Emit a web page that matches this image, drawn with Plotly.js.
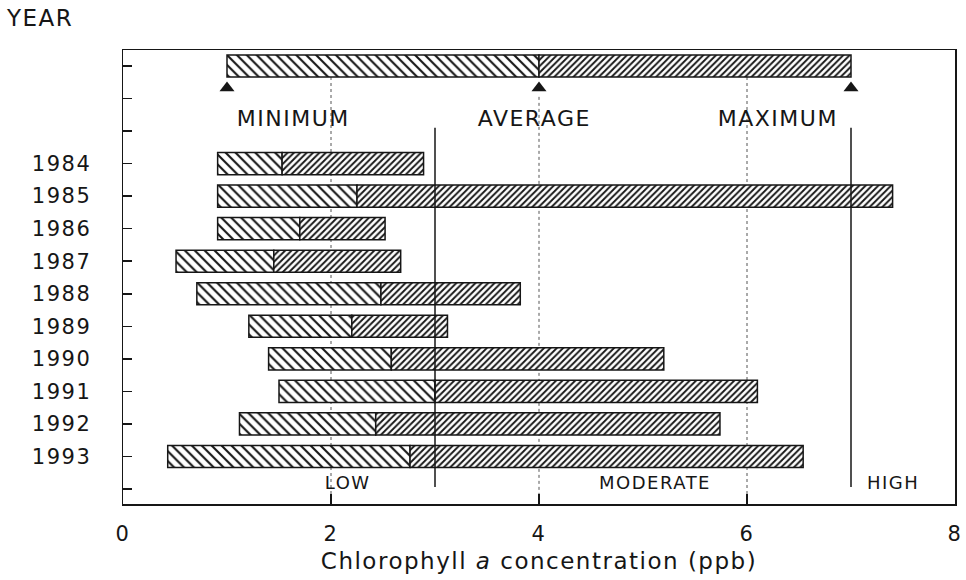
<!DOCTYPE html>
<html>
<head>
<meta charset="utf-8">
<script src="https://cdn.plot.ly/plotly-3.0.1.min.js"></script>
<style>
  html, body { margin: 0; padding: 0; background: #fff; }
  #chart { width: 966px; height: 580px; }
  #chart text { letter-spacing: 1.5px; }
</style>
</head>
<body>
<div id="chart"></div>
<script>
// ---- data ----
const years = ['1984', '1985', '1986', '1987', '1988', '1989', '1990', '1991', '1992', '1993'];
const minVals = [0.91, 0.91, 0.91, 0.51, 0.71, 1.21, 1.40, 1.50, 1.12, 0.43];
const avgVals = [1.53, 2.25, 1.70, 1.45, 2.48, 2.20, 2.58, 3.00, 2.43, 2.76];
const maxVals = [2.89, 7.40, 2.52, 2.67, 3.82, 3.12, 5.20, 6.10, 5.74, 6.54];
// key (explanation) bar
const keyMin = 1;
const keyAvg = 4;
const keyMax = 7;
const keyLabels = ['MINIMUM', 'AVERAGE', 'MAXIMUM'];
// concentration classes and their boundaries
const classLabels = ['LOW', 'MODERATE', 'HIGH'];
const classBounds = [3, 7];
const xTicks = [0, 2, 4, 6, 8];

// ---- layout helpers (row positions) ----
const keyRow = 0;
const firstYearRow = 3;
const yearRows = years.map((_, i) => firstYearRow + i);
const lastRow = firstYearRow + years.length; // empty row below 1993
const tickRows = [];
const tickText = [];
for (let r = 0; r <= lastRow; r++) {
  tickRows.push(r);
  const yi = r - firstYearRow;
  tickText.push(yi >= 0 && yi < years.length ? years[yi] : '');
}

const ink = '#161616';
const font = 'DejaVu Sans, Liberation Sans, Arial, sans-serif';

const lowSeg = {
  type: 'bar', orientation: 'h',
  y: [keyRow, ...yearRows],
  base: [keyMin, ...minVals],
  x: [keyAvg - keyMin, ...avgVals.map((a, i) => a - minVals[i])],
  width: 0.68,
  marker: {
    color: 'white',
    line: { color: ink, width: 1.5 },
    pattern: { shape: '\\', size: 7, solidity: 0.3, fgcolor: ink, bgcolor: 'white', fillmode: 'replace' }
  },
  hoverinfo: 'skip', showlegend: false
};
const highSeg = {
  type: 'bar', orientation: 'h',
  y: [keyRow, ...yearRows],
  base: [keyAvg, ...avgVals],
  x: [keyMax - keyAvg, ...maxVals.map((m, i) => m - avgVals[i])],
  width: 0.68,
  marker: {
    color: 'white',
    line: { color: ink, width: 1.5 },
    pattern: { shape: '/', size: 4.5, solidity: 0.42, fgcolor: ink, bgcolor: 'white', fillmode: 'replace' }
  },
  hoverinfo: 'skip', showlegend: false
};
const arrows = {
  type: 'scatter', mode: 'markers',
  x: [keyMin, keyAvg, keyMax],
  y: [0.68, 0.68, 0.68],
  marker: { symbol: 'triangle-up', size: 13, color: ink },
  hoverinfo: 'skip', showlegend: false, cliponaxis: false
};

const yBottom = lastRow + 0.46;
const yTop = -0.49;

const shapes = [];
// dotted grid lines at 2, 4, 6
[[2, 0.34], [4, 0.95], [6, 0.34]].forEach(([gx, y0]) => {
  shapes.push({ type: 'line', xref: 'x', yref: 'y', x0: gx, x1: gx, y0: y0, y1: yBottom,
    line: { color: '#555', width: 1, dash: 'dot' }, layer: 'below' });
});
// solid class boundaries
classBounds.forEach(bx => {
  shapes.push({ type: 'line', xref: 'x', yref: 'y', x0: bx, x1: bx, y0: 1.9, y1: 12.94,
    line: { color: ink, width: 1.5 }, layer: 'above' });
});

const annotations = [];
const keyLabelX = [1.63, 3.96, 6.30];
keyLabels.forEach((t, i) => annotations.push({
  x: keyLabelX[i], y: 1.6, xref: 'x', yref: 'y', text: t, showarrow: false,
  font: { family: font, size: 22, color: ink }
}));
const classLabelX = [2.16, 5.12, 7.40];
classLabels.forEach((t, i) => annotations.push({
  x: classLabelX[i], y: 12.81, xref: 'x', yref: 'y', text: t, showarrow: false,
  font: { family: font, size: 18, color: ink }
}));
annotations.push({
  x: -0.139, y: 1.07, xref: 'paper', yref: 'paper', xanchor: 'left', yanchor: 'middle',
  text: 'YEAR', showarrow: false, font: { family: font, size: 23, color: ink }
});

const layout = {
  width: 966, height: 580,
  margin: { l: 123, r: 11, t: 50, b: 76 },
  paper_bgcolor: 'white', plot_bgcolor: 'white',
  barmode: 'overlay',
  font: { family: font, color: ink },
  xaxis: {
    range: [0, 8], tickvals: xTicks, ticktext: xTicks.map(String),
    ticks: 'inside', ticklen: 10, tickwidth: 1.5, tickcolor: ink,
    showgrid: false, zeroline: false,
    showline: true, mirror: true, linecolor: ink, linewidth: 1.5,
    tickfont: { family: font, size: 21, color: ink },
    ticklabelstandoff: 10,
    title: { text: 'Chlorophyll <i>a</i> concentration (ppb)', font: { family: font, size: 23, color: ink }, standoff: 8 }
  },
  yaxis: {
    range: [yBottom, yTop], tickvals: tickRows, ticktext: tickText,
    ticks: 'inside', ticklen: 9, tickwidth: 1.5, tickcolor: ink,
    showgrid: false, zeroline: false,
    showline: true, mirror: true, linecolor: ink, linewidth: 1.5,
    tickfont: { family: font, size: 21, color: ink },
    ticklabelstandoff: 26
  },
  shapes: shapes,
  annotations: annotations
};

Plotly.newPlot('chart', [lowSeg, highSeg, arrows], layout, { displayModeBar: false, staticPlot: true });
</script>
</body>
</html>
